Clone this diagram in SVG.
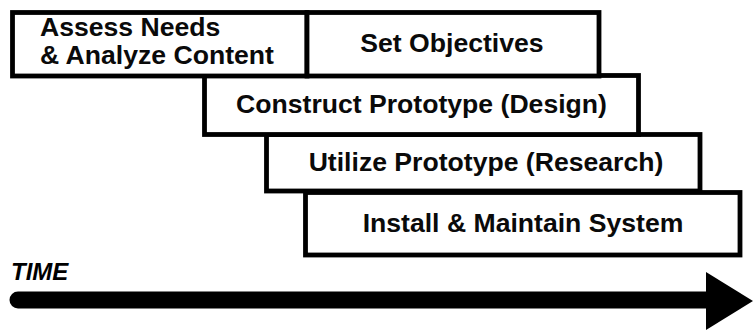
<svg xmlns="http://www.w3.org/2000/svg" width="753" height="331" viewBox="0 0 753 331">
  <style>
    .box { fill: #ffffff; stroke: #000000; stroke-width: 4.8; stroke-linejoin: miter; }
    .lbl { font-family: "Liberation Sans", Arial, sans-serif; font-weight: bold; font-size: 26.6px; fill: #0a0a0a; }
    .mid { text-anchor: middle; }
    .time { font-family: "Liberation Sans", Arial, sans-serif; font-weight: bold; font-style: italic; font-size: 24px; fill: #000000; }
  </style>
  <rect width="753" height="331" fill="#ffffff"/>

  <!-- phases, drawn bottom-up so the earlier rows sit on top -->
  <g id="install">
    <rect class="box" x="305.5" y="192.5" width="434.5" height="62.5"/>
    <text class="lbl mid" x="523" y="232">Install &amp; Maintain System</text>
  </g>
  <g id="utilize">
    <rect class="box" x="266.5" y="134.5" width="433.5" height="56.5"/>
    <text class="lbl mid" x="486" y="171">Utilize Prototype (Research)</text>
  </g>
  <g id="construct">
    <rect class="box" x="204.5" y="75.5" width="434" height="59"/>
    <text class="lbl mid" x="421.5" y="113">Construct Prototype (Design)</text>
  </g>
  <g id="assess">
    <rect class="box" x="12.5" y="12.5" width="294.5" height="63.5"/>
    <text class="lbl" x="40" y="36">Assess Needs</text>
    <text class="lbl" x="40" y="64">&amp; Analyze Content</text>
  </g>
  <g id="objectives">
    <rect class="box" x="307" y="12.5" width="292" height="63.5"/>
    <text class="lbl mid" x="452" y="52">Set Objectives</text>
  </g>

  <!-- time axis -->
  <g id="connectors">
    <text class="time" x="11" y="280">TIME</text>
    <line x1="18" y1="300" x2="712" y2="300" stroke="#000000" stroke-width="17" stroke-linecap="round"/>
    <polygon points="706,272 753,301 706,330" fill="#000000"/>
  </g>
</svg>
